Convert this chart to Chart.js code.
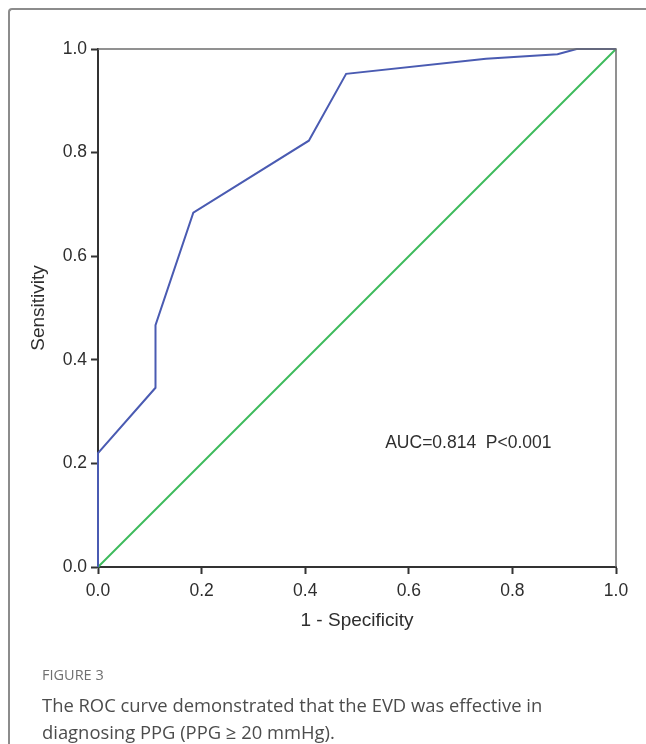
<!DOCTYPE html>
<html>
<head>
<meta charset="utf-8">
<script src="https://cdn.jsdelivr.net/npm/chart.js@4"></script>
<style>
  html, body { margin: 0; padding: 0; background: #fff; }
  #page { position: relative; width: 646px; height: 744px; overflow: hidden; }
  #frame {
    position: absolute; left: 8px; top: 8px; width: 720px; height: 800px;
    border-left: 2px solid #8c8c8c; border-top: 2px solid #8c8c8c;
    border-top-left-radius: 4px; box-sizing: border-box;
  }
  #rocChart { position: absolute; left: 0; top: 0; }
  .caption { position: absolute; left: 42px; font-family: "Open Sans", sans-serif; }
  #figLabel { top: 665px; font-size: 14.5px; color: #707070; line-height: 20px; }
  #figText { top: 691px; width: 600px; font-size: 18.4px; color: #4c4c4c; line-height: 27px; }
</style>
</head>
<body>
<div id="page">
  <div id="frame"></div>
  <canvas id="rocChart" width="646" height="744"></canvas>
  <div class="caption" id="figLabel">FIGURE 3</div>
  <div class="caption" id="figText">The ROC curve demonstrated that the EVD was effective in<br>diagnosing PPG (PPG &ge; 20 mmHg).</div>
</div>
<script>
// ROC-Kurve
const fpr = [0, 0, 0.111, 0.111, 0.184, 0.407, 0.479, 0.749, 0.887, 0.924, 1];
const tpr = [0, 0.22, 0.346, 0.467, 0.684, 0.823, 0.952, 0.981, 0.990, 1, 1];

// Referenzlinie
const refX = [0, 1];
const refY = [0, 1];

const axisTicks = [0, 0.2, 0.4, 0.6, 0.8, 1.0];
const aucLabel = 'AUC=0.814  P<0.001';

const axisFont = "'Liberation Sans', Arial, sans-serif";

// Rahmen oben + rechts
const framePlugin = {
  id: 'frame',
  afterDraw(chart) {
    const { ctx, chartArea: a } = chart;
    ctx.save();
    ctx.strokeStyle = '#6e6e6e';
    ctx.lineWidth = 1.5;
    ctx.beginPath();
    ctx.moveTo(a.left, a.top);
    ctx.lineTo(a.right, a.top);
    ctx.lineTo(a.right, a.bottom);
    ctx.stroke();
    ctx.restore();
  }
};

// AUC Text im Plot
const aucPlugin = {
  id: 'auc',
  afterDatasetsDraw(chart) {
    const { ctx, scales } = chart;
    ctx.save();
    ctx.font = '17.5px ' + axisFont;
    ctx.fillStyle = '#2e2e2e';
    ctx.textAlign = 'center';
    ctx.textBaseline = 'middle';
    ctx.fillText(aucLabel, scales.x.getPixelForValue(0.715), scales.y.getPixelForValue(0.239));
    ctx.restore();
  }
};

const toPoints = (xs, ys) => xs.map((x, i) => ({ x, y: ys[i] }));

const ctx = document.getElementById('rocChart').getContext('2d');
new Chart(ctx, {
  type: 'scatter',
  data: {
    datasets: [
      {
        label: 'ROC',
        data: toPoints(fpr, tpr),
        showLine: true,
        borderColor: '#4a5bb2',
        borderWidth: 2,
        pointRadius: 0,
        tension: 0,
        clip: false,
        order: 1
      },
      {
        label: 'Referenz',
        data: toPoints(refX, refY),
        showLine: true,
        borderColor: '#3dbb5c',
        borderWidth: 2,
        pointRadius: 0,
        tension: 0,
        clip: false,
        order: 2
      }
    ]
  },
  options: {
    responsive: false,
    animation: false,
    layout: { padding: { top: 49, right: 30, left: 0, bottom: 0 } },
    plugins: {
      legend: { display: false },
      tooltip: { enabled: false }
    },
    scales: {
      x: {
        type: 'linear',
        min: 0,
        max: 1,
        afterFit: s => { s.height = 177; },
        afterBuildTicks: s => { s.ticks = axisTicks.map(v => ({ value: v })); },
        ticks: {
          callback: v => v.toFixed(1),
          font: { family: axisFont, size: 17.5 },
          color: '#2e2e2e',
          padding: 7,
          maxRotation: 0
        },
        grid: { drawOnChartArea: false, drawTicks: true, tickLength: 7, tickColor: '#333', tickWidth: 2 },
        border: { display: true, color: '#333', width: 2 },
        title: {
          display: true,
          text: '1 - Specificity',
          font: { family: axisFont, size: 19 },
          color: '#2e2e2e',
          padding: { top: 0, bottom: 112 }
        }
      },
      y: {
        type: 'linear',
        min: 0,
        max: 1,
        afterFit: s => { s.width = 98; },
        afterBuildTicks: s => { s.ticks = axisTicks.map(v => ({ value: v })); },
        ticks: {
          callback: v => v.toFixed(1),
          font: { family: axisFont, size: 17.5 },
          color: '#2e2e2e',
          padding: 4
        },
        grid: { drawOnChartArea: false, drawTicks: true, tickLength: 7, tickColor: '#333', tickWidth: 2 },
        border: { display: true, color: '#333', width: 2 },
        title: {
          display: true,
          text: 'Sensitivity',
          font: { family: axisFont, size: 19 },
          color: '#2e2e2e',
          padding: { top: 27, bottom: 0 }
        }
      }
    }
  },
  plugins: [framePlugin, aucPlugin]
});
</script>
</body>
</html>
